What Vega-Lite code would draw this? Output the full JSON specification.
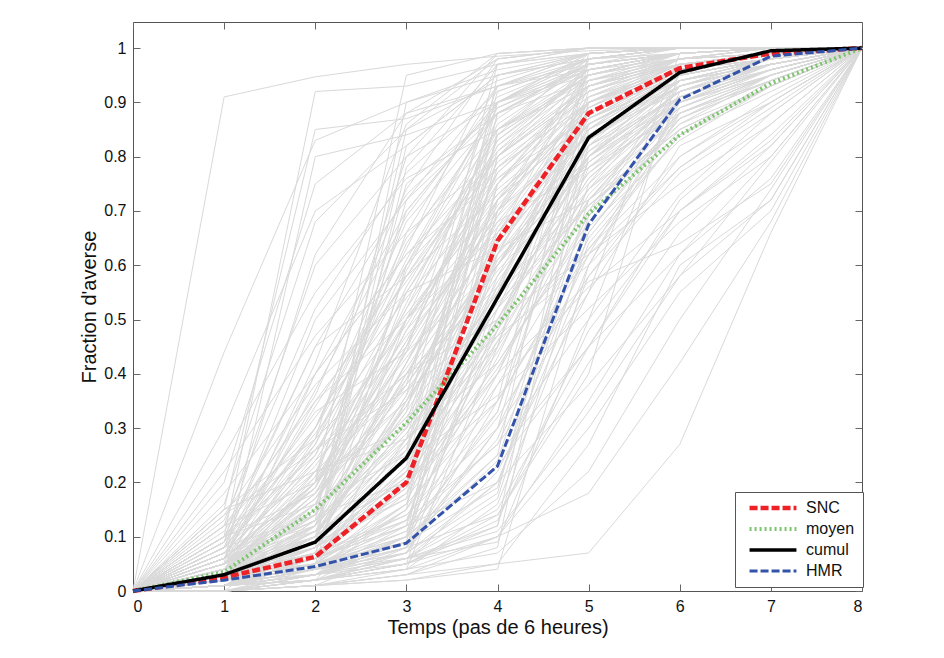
{
"$schema":"https://vega.github.io/schema/vega-lite/v6.json",
"width":729,"height":569,
"autosize":"none",
"padding":{"left":133,"top":22,"right":82,"bottom":67},
"background":"white",
"config":{"view":{"stroke":"#555","strokeWidth":1},"font":"Liberation Sans",
 "axis":{"grid":false,"domain":false,"tickSize":-7,"tickColor":"#666","tickWidth":1,"labelFontSize":16,"labelColor":"#111","titleFontSize":20,"titleFontWeight":"normal","titleColor":"#111","labelFont":"Liberation Sans","titleFont":"Liberation Sans"}},
"datasets":{
"sim":[
{"s":1,"t":0,"v":0},{"s":1,"t":1,"v":0.91},{"s":1,"t":2,"v":0.947},{"s":1,"t":3,"v":0.97},{"s":1,"t":4,"v":0.985},{"s":1,"t":5,"v":0.995},{"s":1,"t":6,"v":1},{"s":1,"t":7,"v":1},{"s":1,"t":8,"v":1},
{"s":2,"t":0,"v":0},{"s":2,"t":1,"v":0.44},{"s":2,"t":2,"v":0.83},{"s":2,"t":3,"v":0.9},{"s":2,"t":4,"v":0.95},{"s":2,"t":5,"v":0.98},{"s":2,"t":6,"v":0.99},{"s":2,"t":7,"v":1},{"s":2,"t":8,"v":1},
{"s":3,"t":0,"v":0},{"s":3,"t":1,"v":0.1},{"s":3,"t":2,"v":0.92},{"s":3,"t":3,"v":0.93},{"s":3,"t":4,"v":0.97},{"s":3,"t":5,"v":0.99},{"s":3,"t":6,"v":1},{"s":3,"t":7,"v":1},{"s":3,"t":8,"v":1},
{"s":4,"t":0,"v":0},{"s":4,"t":1,"v":0.15},{"s":4,"t":2,"v":0.85},{"s":4,"t":3,"v":0.87},{"s":4,"t":4,"v":0.93},{"s":4,"t":5,"v":0.97},{"s":4,"t":6,"v":0.99},{"s":4,"t":7,"v":1},{"s":4,"t":8,"v":1},
{"s":5,"t":0,"v":0},{"s":5,"t":1,"v":0.05},{"s":5,"t":2,"v":0.8},{"s":5,"t":3,"v":0.84},{"s":5,"t":4,"v":0.9},{"s":5,"t":5,"v":0.96},{"s":5,"t":6,"v":0.99},{"s":5,"t":7,"v":1},{"s":5,"t":8,"v":1},
{"s":6,"t":0,"v":0},{"s":6,"t":1,"v":0.2},{"s":6,"t":2,"v":0.75},{"s":6,"t":3,"v":0.88},{"s":6,"t":4,"v":0.93},{"s":6,"t":5,"v":0.96},{"s":6,"t":6,"v":0.98},{"s":6,"t":7,"v":0.99},{"s":6,"t":8,"v":1},
{"s":7,"t":0,"v":0},{"s":7,"t":1,"v":0.3},{"s":7,"t":2,"v":0.7},{"s":7,"t":3,"v":0.82},{"s":7,"t":4,"v":0.95},{"s":7,"t":5,"v":0.98},{"s":7,"t":6,"v":0.99},{"s":7,"t":7,"v":1},{"s":7,"t":8,"v":1},
{"s":8,"t":0,"v":0},{"s":8,"t":1,"v":0.12},{"s":8,"t":2,"v":0.6},{"s":8,"t":3,"v":0.8},{"s":8,"t":4,"v":0.9},{"s":8,"t":5,"v":0.95},{"s":8,"t":6,"v":0.98},{"s":8,"t":7,"v":0.99},{"s":8,"t":8,"v":1},
{"s":9,"t":0,"v":0},{"s":9,"t":1,"v":0.08},{"s":9,"t":2,"v":0.5},{"s":9,"t":3,"v":0.72},{"s":9,"t":4,"v":0.88},{"s":9,"t":5,"v":0.94},{"s":9,"t":6,"v":0.97},{"s":9,"t":7,"v":0.99},{"s":9,"t":8,"v":1},
{"s":10,"t":0,"v":0},{"s":10,"t":1,"v":0.25},{"s":10,"t":2,"v":0.55},{"s":10,"t":3,"v":0.76},{"s":10,"t":4,"v":0.85},{"s":10,"t":5,"v":0.93},{"s":10,"t":6,"v":0.97},{"s":10,"t":7,"v":0.985},{"s":10,"t":8,"v":1},
{"s":11,"t":0,"v":0},{"s":11,"t":1,"v":0.03},{"s":11,"t":2,"v":0.4},{"s":11,"t":3,"v":0.62},{"s":11,"t":4,"v":0.8},{"s":11,"t":5,"v":0.92},{"s":11,"t":6,"v":0.97},{"s":11,"t":7,"v":0.99},{"s":11,"t":8,"v":1},
{"s":12,"t":0,"v":0},{"s":12,"t":1,"v":0.1},{"s":12,"t":2,"v":0.45},{"s":12,"t":3,"v":0.58},{"s":12,"t":4,"v":0.73},{"s":12,"t":5,"v":0.88},{"s":12,"t":6,"v":0.95},{"s":12,"t":7,"v":0.98},{"s":12,"t":8,"v":1},
{"s":13,"t":0,"v":0},{"s":13,"t":1,"v":0.05},{"s":13,"t":2,"v":0.3},{"s":13,"t":3,"v":0.65},{"s":13,"t":4,"v":0.85},{"s":13,"t":5,"v":0.95},{"s":13,"t":6,"v":0.99},{"s":13,"t":7,"v":1},{"s":13,"t":8,"v":1},
{"s":14,"t":0,"v":0},{"s":14,"t":1,"v":0.02},{"s":14,"t":2,"v":0.2},{"s":14,"t":3,"v":0.7},{"s":14,"t":4,"v":0.9},{"s":14,"t":5,"v":0.97},{"s":14,"t":6,"v":0.99},{"s":14,"t":7,"v":1},{"s":14,"t":8,"v":1},
{"s":15,"t":0,"v":0},{"s":15,"t":1,"v":0.06},{"s":15,"t":2,"v":0.35},{"s":15,"t":3,"v":0.5},{"s":15,"t":4,"v":0.66},{"s":15,"t":5,"v":0.84},{"s":15,"t":6,"v":0.93},{"s":15,"t":7,"v":0.97},{"s":15,"t":8,"v":1},
{"s":16,"t":0,"v":0},{"s":16,"t":1,"v":0.15},{"s":16,"t":2,"v":0.28},{"s":16,"t":3,"v":0.45},{"s":16,"t":4,"v":0.72},{"s":16,"t":5,"v":0.9},{"s":16,"t":6,"v":0.96},{"s":16,"t":7,"v":0.98},{"s":16,"t":8,"v":1},
{"s":17,"t":0,"v":0},{"s":17,"t":1,"v":0},{"s":17,"t":2,"v":0.12},{"s":17,"t":3,"v":0.55},{"s":17,"t":4,"v":0.8},{"s":17,"t":5,"v":0.95},{"s":17,"t":6,"v":0.99},{"s":17,"t":7,"v":1},{"s":17,"t":8,"v":1},
{"s":18,"t":0,"v":0},{"s":18,"t":1,"v":0.04},{"s":18,"t":2,"v":0.18},{"s":18,"t":3,"v":0.38},{"s":18,"t":4,"v":0.62},{"s":18,"t":5,"v":0.8},{"s":18,"t":6,"v":0.92},{"s":18,"t":7,"v":0.96},{"s":18,"t":8,"v":1},
{"s":19,"t":0,"v":0},{"s":19,"t":1,"v":0.01},{"s":19,"t":2,"v":0.08},{"s":19,"t":3,"v":0.9},{"s":19,"t":4,"v":0.96},{"s":19,"t":5,"v":0.99},{"s":19,"t":6,"v":1},{"s":19,"t":7,"v":1},{"s":19,"t":8,"v":1},
{"s":20,"t":0,"v":0},{"s":20,"t":1,"v":0.02},{"s":20,"t":2,"v":0.1},{"s":20,"t":3,"v":0.82},{"s":20,"t":4,"v":0.95},{"s":20,"t":5,"v":0.99},{"s":20,"t":6,"v":1},{"s":20,"t":7,"v":1},{"s":20,"t":8,"v":1},
{"s":21,"t":0,"v":0},{"s":21,"t":1,"v":0.03},{"s":21,"t":2,"v":0.15},{"s":21,"t":3,"v":0.75},{"s":21,"t":4,"v":0.88},{"s":21,"t":5,"v":0.96},{"s":21,"t":6,"v":0.99},{"s":21,"t":7,"v":1},{"s":21,"t":8,"v":1},
{"s":22,"t":0,"v":0},{"s":22,"t":1,"v":0.01},{"s":22,"t":2,"v":0.05},{"s":22,"t":3,"v":0.6},{"s":22,"t":4,"v":0.9},{"s":22,"t":5,"v":0.98},{"s":22,"t":6,"v":1},{"s":22,"t":7,"v":1},{"s":22,"t":8,"v":1},
{"s":23,"t":0,"v":0},{"s":23,"t":1,"v":0.02},{"s":23,"t":2,"v":0.07},{"s":23,"t":3,"v":0.5},{"s":23,"t":4,"v":0.75},{"s":23,"t":5,"v":0.9},{"s":23,"t":6,"v":0.97},{"s":23,"t":7,"v":0.99},{"s":23,"t":8,"v":1},
{"s":24,"t":0,"v":0},{"s":24,"t":1,"v":0.05},{"s":24,"t":2,"v":0.12},{"s":24,"t":3,"v":0.42},{"s":24,"t":4,"v":0.7},{"s":24,"t":5,"v":0.86},{"s":24,"t":6,"v":0.94},{"s":24,"t":7,"v":0.97},{"s":24,"t":8,"v":1},
{"s":25,"t":0,"v":0},{"s":25,"t":1,"v":0.08},{"s":25,"t":2,"v":0.22},{"s":25,"t":3,"v":0.3},{"s":25,"t":4,"v":0.55},{"s":25,"t":5,"v":0.75},{"s":25,"t":6,"v":0.9},{"s":25,"t":7,"v":0.95},{"s":25,"t":8,"v":1},
{"s":26,"t":0,"v":0},{"s":26,"t":1,"v":0.01},{"s":26,"t":2,"v":0.04},{"s":26,"t":3,"v":0.35},{"s":26,"t":4,"v":0.6},{"s":26,"t":5,"v":0.82},{"s":26,"t":6,"v":0.93},{"s":26,"t":7,"v":0.97},{"s":26,"t":8,"v":1},
{"s":27,"t":0,"v":0},{"s":27,"t":1,"v":0.02},{"s":27,"t":2,"v":0.09},{"s":27,"t":3,"v":0.28},{"s":27,"t":4,"v":0.45},{"s":27,"t":5,"v":0.7},{"s":27,"t":6,"v":0.88},{"s":27,"t":7,"v":0.94},{"s":27,"t":8,"v":1},
{"s":28,"t":0,"v":0},{"s":28,"t":1,"v":0},{"s":28,"t":2,"v":0.02},{"s":28,"t":3,"v":0.2},{"s":28,"t":4,"v":0.8},{"s":28,"t":5,"v":0.93},{"s":28,"t":6,"v":0.98},{"s":28,"t":7,"v":0.99},{"s":28,"t":8,"v":1},
{"s":29,"t":0,"v":0},{"s":29,"t":1,"v":0.01},{"s":29,"t":2,"v":0.03},{"s":29,"t":3,"v":0.15},{"s":29,"t":4,"v":0.95},{"s":29,"t":5,"v":0.99},{"s":29,"t":6,"v":1},{"s":29,"t":7,"v":1},{"s":29,"t":8,"v":1},
{"s":30,"t":0,"v":0},{"s":30,"t":1,"v":0.03},{"s":30,"t":2,"v":0.06},{"s":30,"t":3,"v":0.12},{"s":30,"t":4,"v":0.7},{"s":30,"t":5,"v":0.9},{"s":30,"t":6,"v":0.97},{"s":30,"t":7,"v":0.99},{"s":30,"t":8,"v":1},
{"s":31,"t":0,"v":0},{"s":31,"t":1,"v":0.02},{"s":31,"t":2,"v":0.05},{"s":31,"t":3,"v":0.25},{"s":31,"t":4,"v":0.88},{"s":31,"t":5,"v":0.97},{"s":31,"t":6,"v":0.99},{"s":31,"t":7,"v":1},{"s":31,"t":8,"v":1},
{"s":32,"t":0,"v":0},{"s":32,"t":1,"v":0.01},{"s":32,"t":2,"v":0.1},{"s":32,"t":3,"v":0.33},{"s":32,"t":4,"v":0.92},{"s":32,"t":5,"v":0.98},{"s":32,"t":6,"v":1},{"s":32,"t":7,"v":1},{"s":32,"t":8,"v":1},
{"s":33,"t":0,"v":0},{"s":33,"t":1,"v":0.04},{"s":33,"t":2,"v":0.08},{"s":33,"t":3,"v":0.18},{"s":33,"t":4,"v":0.6},{"s":33,"t":5,"v":0.85},{"s":33,"t":6,"v":0.95},{"s":33,"t":7,"v":0.98},{"s":33,"t":8,"v":1},
{"s":34,"t":0,"v":0},{"s":34,"t":1,"v":0},{"s":34,"t":2,"v":0.01},{"s":34,"t":3,"v":0.08},{"s":34,"t":4,"v":0.5},{"s":34,"t":5,"v":0.8},{"s":34,"t":6,"v":0.94},{"s":34,"t":7,"v":0.97},{"s":34,"t":8,"v":1},
{"s":35,"t":0,"v":0},{"s":35,"t":1,"v":0.01},{"s":35,"t":2,"v":0.04},{"s":35,"t":3,"v":0.1},{"s":35,"t":4,"v":0.4},{"s":35,"t":5,"v":0.72},{"s":35,"t":6,"v":0.9},{"s":35,"t":7,"v":0.95},{"s":35,"t":8,"v":1},
{"s":36,"t":0,"v":0},{"s":36,"t":1,"v":0.02},{"s":36,"t":2,"v":0.06},{"s":36,"t":3,"v":0.14},{"s":36,"t":4,"v":0.3},{"s":36,"t":5,"v":0.65},{"s":36,"t":6,"v":0.85},{"s":36,"t":7,"v":0.93},{"s":36,"t":8,"v":1},
{"s":37,"t":0,"v":0},{"s":37,"t":1,"v":0},{"s":37,"t":2,"v":0.02},{"s":37,"t":3,"v":0.05},{"s":37,"t":4,"v":0.22},{"s":37,"t":5,"v":0.55},{"s":37,"t":6,"v":0.82},{"s":37,"t":7,"v":0.9},{"s":37,"t":8,"v":1},
{"s":38,"t":0,"v":0},{"s":38,"t":1,"v":0.01},{"s":38,"t":2,"v":0.03},{"s":38,"t":3,"v":0.06},{"s":38,"t":4,"v":0.15},{"s":38,"t":5,"v":0.45},{"s":38,"t":6,"v":0.7},{"s":38,"t":7,"v":0.82},{"s":38,"t":8,"v":1},
{"s":39,"t":0,"v":0},{"s":39,"t":1,"v":0},{"s":39,"t":2,"v":0.01},{"s":39,"t":3,"v":0.03},{"s":39,"t":4,"v":0.1},{"s":39,"t":5,"v":0.35},{"s":39,"t":6,"v":0.62},{"s":39,"t":7,"v":0.8},{"s":39,"t":8,"v":1},
{"s":40,"t":0,"v":0},{"s":40,"t":1,"v":0.02},{"s":40,"t":2,"v":0.05},{"s":40,"t":3,"v":0.09},{"s":40,"t":4,"v":0.25},{"s":40,"t":5,"v":0.98},{"s":40,"t":6,"v":1},{"s":40,"t":7,"v":1},{"s":40,"t":8,"v":1},
{"s":41,"t":0,"v":0},{"s":41,"t":1,"v":0.01},{"s":41,"t":2,"v":0.03},{"s":41,"t":3,"v":0.07},{"s":41,"t":4,"v":0.35},{"s":41,"t":5,"v":0.99},{"s":41,"t":6,"v":1},{"s":41,"t":7,"v":1},{"s":41,"t":8,"v":1},
{"s":42,"t":0,"v":0},{"s":42,"t":1,"v":0},{"s":42,"t":2,"v":0.02},{"s":42,"t":3,"v":0.04},{"s":42,"t":4,"v":0.45},{"s":42,"t":5,"v":0.96},{"s":42,"t":6,"v":0.99},{"s":42,"t":7,"v":1},{"s":42,"t":8,"v":1},
{"s":43,"t":0,"v":0},{"s":43,"t":1,"v":0.03},{"s":43,"t":2,"v":0.07},{"s":43,"t":3,"v":0.13},{"s":43,"t":4,"v":0.55},{"s":43,"t":5,"v":0.93},{"s":43,"t":6,"v":0.98},{"s":43,"t":7,"v":0.99},{"s":43,"t":8,"v":1},
{"s":44,"t":0,"v":0},{"s":44,"t":1,"v":0.01},{"s":44,"t":2,"v":0.04},{"s":44,"t":3,"v":0.08},{"s":44,"t":4,"v":0.65},{"s":44,"t":5,"v":0.97},{"s":44,"t":6,"v":0.99},{"s":44,"t":7,"v":1},{"s":44,"t":8,"v":1},
{"s":45,"t":0,"v":0},{"s":45,"t":1,"v":0.02},{"s":45,"t":2,"v":0.06},{"s":45,"t":3,"v":0.2},{"s":45,"t":4,"v":0.75},{"s":45,"t":5,"v":0.95},{"s":45,"t":6,"v":0.99},{"s":45,"t":7,"v":1},{"s":45,"t":8,"v":1},
{"s":46,"t":0,"v":0},{"s":46,"t":1,"v":0},{"s":46,"t":2,"v":0.03},{"s":46,"t":3,"v":0.1},{"s":46,"t":4,"v":0.85},{"s":46,"t":5,"v":0.98},{"s":46,"t":6,"v":1},{"s":46,"t":7,"v":1},{"s":46,"t":8,"v":1},
{"s":47,"t":0,"v":0},{"s":47,"t":1,"v":0.01},{"s":47,"t":2,"v":0.02},{"s":47,"t":3,"v":0.05},{"s":47,"t":4,"v":0.12},{"s":47,"t":5,"v":0.9},{"s":47,"t":6,"v":0.98},{"s":47,"t":7,"v":0.99},{"s":47,"t":8,"v":1},
{"s":48,"t":0,"v":0},{"s":48,"t":1,"v":0},{"s":48,"t":2,"v":0.01},{"s":48,"t":3,"v":0.03},{"s":48,"t":4,"v":0.08},{"s":48,"t":5,"v":0.85},{"s":48,"t":6,"v":0.97},{"s":48,"t":7,"v":0.99},{"s":48,"t":8,"v":1},
{"s":49,"t":0,"v":0},{"s":49,"t":1,"v":0.02},{"s":49,"t":2,"v":0.04},{"s":49,"t":3,"v":0.07},{"s":49,"t":4,"v":0.18},{"s":49,"t":5,"v":0.8},{"s":49,"t":6,"v":0.96},{"s":49,"t":7,"v":0.98},{"s":49,"t":8,"v":1},
{"s":50,"t":0,"v":0},{"s":50,"t":1,"v":0.01},{"s":50,"t":2,"v":0.03},{"s":50,"t":3,"v":0.09},{"s":50,"t":4,"v":0.28},{"s":50,"t":5,"v":0.7},{"s":50,"t":6,"v":0.94},{"s":50,"t":7,"v":0.97},{"s":50,"t":8,"v":1},
{"s":51,"t":0,"v":0},{"s":51,"t":1,"v":0},{"s":51,"t":2,"v":0.02},{"s":51,"t":3,"v":0.06},{"s":51,"t":4,"v":0.2},{"s":51,"t":5,"v":0.6},{"s":51,"t":6,"v":0.88},{"s":51,"t":7,"v":0.95},{"s":51,"t":8,"v":1},
{"s":52,"t":0,"v":0},{"s":52,"t":1,"v":0.03},{"s":52,"t":2,"v":0.05},{"s":52,"t":3,"v":0.11},{"s":52,"t":4,"v":0.32},{"s":52,"t":5,"v":0.58},{"s":52,"t":6,"v":0.8},{"s":52,"t":7,"v":0.9},{"s":52,"t":8,"v":1},
{"s":53,"t":0,"v":0},{"s":53,"t":1,"v":0.01},{"s":53,"t":2,"v":0.02},{"s":53,"t":3,"v":0.04},{"s":53,"t":4,"v":0.1},{"s":53,"t":5,"v":0.3},{"s":53,"t":6,"v":0.55},{"s":53,"t":7,"v":0.7},{"s":53,"t":8,"v":1},
{"s":54,"t":0,"v":0},{"s":54,"t":1,"v":0},{"s":54,"t":2,"v":0.01},{"s":54,"t":3,"v":0.02},{"s":54,"t":4,"v":0.05},{"s":54,"t":5,"v":0.27},{"s":54,"t":6,"v":0.6},{"s":54,"t":7,"v":0.72},{"s":54,"t":8,"v":1},
{"s":55,"t":0,"v":0},{"s":55,"t":1,"v":0.02},{"s":55,"t":2,"v":0.04},{"s":55,"t":3,"v":0.06},{"s":55,"t":4,"v":0.09},{"s":55,"t":5,"v":0.5},{"s":55,"t":6,"v":0.92},{"s":55,"t":7,"v":0.97},{"s":55,"t":8,"v":1},
{"s":56,"t":0,"v":0},{"s":56,"t":1,"v":0.01},{"s":56,"t":2,"v":0.02},{"s":56,"t":3,"v":0.05},{"s":56,"t":4,"v":0.14},{"s":56,"t":5,"v":0.4},{"s":56,"t":6,"v":0.96},{"s":56,"t":7,"v":0.99},{"s":56,"t":8,"v":1},
{"s":57,"t":0,"v":0},{"s":57,"t":1,"v":0},{"s":57,"t":2,"v":0.03},{"s":57,"t":3,"v":0.08},{"s":57,"t":4,"v":0.3},{"s":57,"t":5,"v":0.55},{"s":57,"t":6,"v":0.99},{"s":57,"t":7,"v":1},{"s":57,"t":8,"v":1},
{"s":58,"t":0,"v":0},{"s":58,"t":1,"v":0.04},{"s":58,"t":2,"v":0.1},{"s":58,"t":3,"v":0.4},{"s":58,"t":4,"v":0.5},{"s":58,"t":5,"v":0.62},{"s":58,"t":6,"v":0.75},{"s":58,"t":7,"v":0.86},{"s":58,"t":8,"v":1},
{"s":59,"t":0,"v":0},{"s":59,"t":1,"v":0.05},{"s":59,"t":2,"v":0.16},{"s":59,"t":3,"v":0.48},{"s":59,"t":4,"v":0.68},{"s":59,"t":5,"v":0.78},{"s":59,"t":6,"v":0.88},{"s":59,"t":7,"v":0.94},{"s":59,"t":8,"v":1},
{"s":60,"t":0,"v":0},{"s":60,"t":1,"v":0.06},{"s":60,"t":2,"v":0.2},{"s":60,"t":3,"v":0.52},{"s":60,"t":4,"v":0.78},{"s":60,"t":5,"v":0.9},{"s":60,"t":6,"v":0.96},{"s":60,"t":7,"v":0.98},{"s":60,"t":8,"v":1},
{"s":61,"t":0,"v":0},{"s":61,"t":1,"v":0.1},{"s":61,"t":2,"v":0.25},{"s":61,"t":3,"v":0.6},{"s":61,"t":4,"v":0.85},{"s":61,"t":5,"v":0.94},{"s":61,"t":6,"v":0.98},{"s":61,"t":7,"v":0.99},{"s":61,"t":8,"v":1},
{"s":62,"t":0,"v":0},{"s":62,"t":1,"v":0.12},{"s":62,"t":2,"v":0.3},{"s":62,"t":3,"v":0.68},{"s":62,"t":4,"v":0.88},{"s":62,"t":5,"v":0.97},{"s":62,"t":6,"v":0.99},{"s":62,"t":7,"v":1},{"s":62,"t":8,"v":1},
{"s":63,"t":0,"v":0},{"s":63,"t":1,"v":0.07},{"s":63,"t":2,"v":0.14},{"s":63,"t":3,"v":0.72},{"s":63,"t":4,"v":0.93},{"s":63,"t":5,"v":0.98},{"s":63,"t":6,"v":1},{"s":63,"t":7,"v":1},{"s":63,"t":8,"v":1},
{"s":64,"t":0,"v":0},{"s":64,"t":1,"v":0.03},{"s":64,"t":2,"v":0.09},{"s":64,"t":3,"v":0.78},{"s":64,"t":4,"v":0.97},{"s":64,"t":5,"v":0.99},{"s":64,"t":6,"v":1},{"s":64,"t":7,"v":1},{"s":64,"t":8,"v":1},
{"s":65,"t":0,"v":0},{"s":65,"t":1,"v":0.02},{"s":65,"t":2,"v":0.13},{"s":65,"t":3,"v":0.85},{"s":65,"t":4,"v":0.98},{"s":65,"t":5,"v":1},{"s":65,"t":6,"v":1},{"s":65,"t":7,"v":1},{"s":65,"t":8,"v":1},
{"s":66,"t":0,"v":0},{"s":66,"t":1,"v":0.04},{"s":66,"t":2,"v":0.2},{"s":66,"t":3,"v":0.95},{"s":66,"t":4,"v":0.99},{"s":66,"t":5,"v":1},{"s":66,"t":6,"v":1},{"s":66,"t":7,"v":1},{"s":66,"t":8,"v":1},
{"s":67,"t":0,"v":0},{"s":67,"t":1,"v":0.14},{"s":67,"t":2,"v":0.38},{"s":67,"t":3,"v":0.55},{"s":67,"t":4,"v":0.63},{"s":67,"t":5,"v":0.72},{"s":67,"t":6,"v":0.85},{"s":67,"t":7,"v":0.93},{"s":67,"t":8,"v":1},
{"s":68,"t":0,"v":0},{"s":68,"t":1,"v":0.09},{"s":68,"t":2,"v":0.33},{"s":68,"t":3,"v":0.44},{"s":68,"t":4,"v":0.6},{"s":68,"t":5,"v":0.88},{"s":68,"t":6,"v":0.95},{"s":68,"t":7,"v":0.98},{"s":68,"t":8,"v":1},
{"s":69,"t":0,"v":0},{"s":69,"t":1,"v":0.06},{"s":69,"t":2,"v":0.26},{"s":69,"t":3,"v":0.37},{"s":69,"t":4,"v":0.5},{"s":69,"t":5,"v":0.76},{"s":69,"t":6,"v":0.91},{"s":69,"t":7,"v":0.96},{"s":69,"t":8,"v":1},
{"s":70,"t":0,"v":0},{"s":70,"t":1,"v":0.03},{"s":70,"t":2,"v":0.12},{"s":70,"t":3,"v":0.3},{"s":70,"t":4,"v":0.78},{"s":70,"t":5,"v":0.93},{"s":70,"t":6,"v":0.99},{"s":70,"t":7,"v":1},{"s":70,"t":8,"v":1},
{"s":71,"t":0,"v":0},{"s":71,"t":1,"v":0.05},{"s":71,"t":2,"v":0.17},{"s":71,"t":3,"v":0.45},{"s":71,"t":4,"v":0.82},{"s":71,"t":5,"v":0.96},{"s":71,"t":6,"v":0.99},{"s":71,"t":7,"v":1},{"s":71,"t":8,"v":1},
{"s":72,"t":0,"v":0},{"s":72,"t":1,"v":0.02},{"s":72,"t":2,"v":0.08},{"s":72,"t":3,"v":0.22},{"s":72,"t":4,"v":0.67},{"s":72,"t":5,"v":0.91},{"s":72,"t":6,"v":0.97},{"s":72,"t":7,"v":0.99},{"s":72,"t":8,"v":1},
{"s":73,"t":0,"v":0},{"s":73,"t":1,"v":0.01},{"s":73,"t":2,"v":0.05},{"s":73,"t":3,"v":0.16},{"s":73,"t":4,"v":0.58},{"s":73,"t":5,"v":0.87},{"s":73,"t":6,"v":0.96},{"s":73,"t":7,"v":0.98},{"s":73,"t":8,"v":1},
{"s":74,"t":0,"v":0},{"s":74,"t":1,"v":0},{"s":74,"t":2,"v":0.04},{"s":74,"t":3,"v":0.11},{"s":74,"t":4,"v":0.48},{"s":74,"t":5,"v":0.83},{"s":74,"t":6,"v":0.95},{"s":74,"t":7,"v":0.98},{"s":74,"t":8,"v":1},
{"s":75,"t":0,"v":0},{"s":75,"t":1,"v":0.02},{"s":75,"t":2,"v":0.07},{"s":75,"t":3,"v":0.19},{"s":75,"t":4,"v":0.42},{"s":75,"t":5,"v":0.68},{"s":75,"t":6,"v":0.86},{"s":75,"t":7,"v":0.93},{"s":75,"t":8,"v":1},
{"s":76,"t":0,"v":0},{"s":76,"t":1,"v":0.03},{"s":76,"t":2,"v":0.1},{"s":76,"t":3,"v":0.24},{"s":76,"t":4,"v":0.36},{"s":76,"t":5,"v":0.52},{"s":76,"t":6,"v":0.68},{"s":76,"t":7,"v":0.8},{"s":76,"t":8,"v":1},
{"s":77,"t":0,"v":0},{"s":77,"t":1,"v":0.01},{"s":77,"t":2,"v":0.06},{"s":77,"t":3,"v":0.13},{"s":77,"t":4,"v":0.27},{"s":77,"t":5,"v":0.62},{"s":77,"t":6,"v":0.89},{"s":77,"t":7,"v":0.95},{"s":77,"t":8,"v":1},
{"s":78,"t":0,"v":0},{"s":78,"t":1,"v":0.04},{"s":78,"t":2,"v":0.11},{"s":78,"t":3,"v":0.27},{"s":78,"t":4,"v":0.52},{"s":78,"t":5,"v":0.77},{"s":78,"t":6,"v":0.91},{"s":78,"t":7,"v":0.96},{"s":78,"t":8,"v":1},
{"s":79,"t":0,"v":0},{"s":79,"t":1,"v":0},{"s":79,"t":2,"v":0.02},{"s":79,"t":3,"v":0.07},{"s":79,"t":4,"v":0.38},{"s":79,"t":5,"v":0.66},{"s":79,"t":6,"v":0.87},{"s":79,"t":7,"v":0.94},{"s":79,"t":8,"v":1},
{"s":80,"t":0,"v":0},{"s":80,"t":1,"v":0.01},{"s":80,"t":2,"v":0.05},{"s":80,"t":3,"v":0.15},{"s":80,"t":4,"v":0.46},{"s":80,"t":5,"v":0.74},{"s":80,"t":6,"v":0.93},{"s":80,"t":7,"v":0.97},{"s":80,"t":8,"v":1},
{"s":81,"t":0,"v":0},{"s":81,"t":1,"v":0.02},{"s":81,"t":2,"v":0.09},{"s":81,"t":3,"v":0.21},{"s":81,"t":4,"v":0.56},{"s":81,"t":5,"v":0.89},{"s":81,"t":6,"v":0.98},{"s":81,"t":7,"v":0.99},{"s":81,"t":8,"v":1},
{"s":82,"t":0,"v":0},{"s":82,"t":1,"v":0},{"s":82,"t":2,"v":0.03},{"s":82,"t":3,"v":0.12},{"s":82,"t":4,"v":0.62},{"s":82,"t":5,"v":0.94},{"s":82,"t":6,"v":0.99},{"s":82,"t":7,"v":1},{"s":82,"t":8,"v":1},
{"s":83,"t":0,"v":0},{"s":83,"t":1,"v":0.01},{"s":83,"t":2,"v":0.04},{"s":83,"t":3,"v":0.09},{"s":83,"t":4,"v":0.72},{"s":83,"t":5,"v":0.95},{"s":83,"t":6,"v":0.99},{"s":83,"t":7,"v":1},{"s":83,"t":8,"v":1},
{"s":84,"t":0,"v":0},{"s":84,"t":1,"v":0.03},{"s":84,"t":2,"v":0.08},{"s":84,"t":3,"v":0.17},{"s":84,"t":4,"v":0.8},{"s":84,"t":5,"v":0.97},{"s":84,"t":6,"v":1},{"s":84,"t":7,"v":1},{"s":84,"t":8,"v":1},
{"s":85,"t":0,"v":0},{"s":85,"t":1,"v":0.05},{"s":85,"t":2,"v":0.13},{"s":85,"t":3,"v":0.26},{"s":85,"t":4,"v":0.9},{"s":85,"t":5,"v":0.99},{"s":85,"t":6,"v":1},{"s":85,"t":7,"v":1},{"s":85,"t":8,"v":1},
{"s":86,"t":0,"v":0},{"s":86,"t":1,"v":0.02},{"s":86,"t":2,"v":0.1},{"s":86,"t":3,"v":0.36},{"s":86,"t":4,"v":0.97},{"s":86,"t":5,"v":1},{"s":86,"t":6,"v":1},{"s":86,"t":7,"v":1},{"s":86,"t":8,"v":1},
{"s":87,"t":0,"v":0},{"s":87,"t":1,"v":0.01},{"s":87,"t":2,"v":0.07},{"s":87,"t":3,"v":0.23},{"s":87,"t":4,"v":0.84},{"s":87,"t":5,"v":0.99},{"s":87,"t":6,"v":1},{"s":87,"t":7,"v":1},{"s":87,"t":8,"v":1},
{"s":88,"t":0,"v":0},{"s":88,"t":1,"v":0},{"s":88,"t":2,"v":0.02},{"s":88,"t":3,"v":0.06},{"s":88,"t":4,"v":0.17},{"s":88,"t":5,"v":0.69},{"s":88,"t":6,"v":0.93},{"s":88,"t":7,"v":0.97},{"s":88,"t":8,"v":1},
{"s":89,"t":0,"v":0},{"s":89,"t":1,"v":0.01},{"s":89,"t":2,"v":0.03},{"s":89,"t":3,"v":0.08},{"s":89,"t":4,"v":0.24},{"s":89,"t":5,"v":0.75},{"s":89,"t":6,"v":0.95},{"s":89,"t":7,"v":0.98},{"s":89,"t":8,"v":1},
{"s":90,"t":0,"v":0},{"s":90,"t":1,"v":0.02},{"s":90,"t":2,"v":0.05},{"s":90,"t":3,"v":0.1},{"s":90,"t":4,"v":0.33},{"s":90,"t":5,"v":0.82},{"s":90,"t":6,"v":0.97},{"s":90,"t":7,"v":0.99},{"s":90,"t":8,"v":1},
{"s":91,"t":0,"v":0},{"s":91,"t":1,"v":0.18},{"s":91,"t":2,"v":0.4},{"s":91,"t":3,"v":0.62},{"s":91,"t":4,"v":0.76},{"s":91,"t":5,"v":0.87},{"s":91,"t":6,"v":0.94},{"s":91,"t":7,"v":0.97},{"s":91,"t":8,"v":1},
{"s":92,"t":0,"v":0},{"s":92,"t":1,"v":0.22},{"s":92,"t":2,"v":0.47},{"s":92,"t":3,"v":0.66},{"s":92,"t":4,"v":0.8},{"s":92,"t":5,"v":0.92},{"s":92,"t":6,"v":0.97},{"s":92,"t":7,"v":0.99},{"s":92,"t":8,"v":1},
{"s":93,"t":0,"v":0},{"s":93,"t":1,"v":0.07},{"s":93,"t":2,"v":0.24},{"s":93,"t":3,"v":0.4},{"s":93,"t":4,"v":0.56},{"s":93,"t":5,"v":0.71},{"s":93,"t":6,"v":0.84},{"s":93,"t":7,"v":0.92},{"s":93,"t":8,"v":1},
{"s":94,"t":0,"v":0},{"s":94,"t":1,"v":0.03},{"s":94,"t":2,"v":0.15},{"s":94,"t":3,"v":0.32},{"s":94,"t":4,"v":0.47},{"s":94,"t":5,"v":0.6},{"s":94,"t":6,"v":0.78},{"s":94,"t":7,"v":0.89},{"s":94,"t":8,"v":1},
{"s":95,"t":0,"v":0},{"s":95,"t":1,"v":0.01},{"s":95,"t":2,"v":0.06},{"s":95,"t":3,"v":0.2},{"s":95,"t":4,"v":0.4},{"s":95,"t":5,"v":0.57},{"s":95,"t":6,"v":0.64},{"s":95,"t":7,"v":0.75},{"s":95,"t":8,"v":1},
{"s":96,"t":0,"v":0},{"s":96,"t":1,"v":0},{"s":96,"t":2,"v":0.03},{"s":96,"t":3,"v":0.1},{"s":96,"t":4,"v":0.25},{"s":96,"t":5,"v":0.45},{"s":96,"t":6,"v":0.72},{"s":96,"t":7,"v":0.86},{"s":96,"t":8,"v":1},
{"s":97,"t":0,"v":0},{"s":97,"t":1,"v":0.02},{"s":97,"t":2,"v":0.05},{"s":97,"t":3,"v":0.12},{"s":97,"t":4,"v":0.2},{"s":97,"t":5,"v":0.38},{"s":97,"t":6,"v":0.58},{"s":97,"t":7,"v":0.72},{"s":97,"t":8,"v":1},
{"s":98,"t":0,"v":0},{"s":98,"t":1,"v":0.04},{"s":98,"t":2,"v":0.12},{"s":98,"t":3,"v":0.34},{"s":98,"t":4,"v":0.64},{"s":98,"t":5,"v":0.86},{"s":98,"t":6,"v":0.95},{"s":98,"t":7,"v":0.98},{"s":98,"t":8,"v":1},
{"s":99,"t":0,"v":0},{"s":99,"t":1,"v":0.06},{"s":99,"t":2,"v":0.19},{"s":99,"t":3,"v":0.5},{"s":99,"t":4,"v":0.73},{"s":99,"t":5,"v":0.89},{"s":99,"t":6,"v":0.97},{"s":99,"t":7,"v":0.99},{"s":99,"t":8,"v":1},
{"s":100,"t":0,"v":0},{"s":100,"t":1,"v":0.08},{"s":100,"t":2,"v":0.27},{"s":100,"t":3,"v":0.58},{"s":100,"t":4,"v":0.83},{"s":100,"t":5,"v":0.95},{"s":100,"t":6,"v":0.99},{"s":100,"t":7,"v":1},{"s":100,"t":8,"v":1},
{"s":101,"t":0,"v":0},{"s":101,"t":1,"v":0.12},{"s":101,"t":2,"v":0.2},{"s":101,"t":3,"v":0.35},{"s":101,"t":4,"v":0.6},{"s":101,"t":5,"v":0.85},{"s":101,"t":6,"v":0.93},{"s":101,"t":7,"v":0.98},{"s":101,"t":8,"v":1},
{"s":102,"t":0,"v":0},{"s":102,"t":1,"v":0.15},{"s":102,"t":2,"v":0.22},{"s":102,"t":3,"v":0.28},{"s":102,"t":4,"v":0.42},{"s":102,"t":5,"v":0.67},{"s":102,"t":6,"v":0.83},{"s":102,"t":7,"v":0.93},{"s":102,"t":8,"v":1},
{"s":103,"t":0,"v":0},{"s":103,"t":1,"v":0.1},{"s":103,"t":2,"v":0.16},{"s":103,"t":3,"v":0.25},{"s":103,"t":4,"v":0.5},{"s":103,"t":5,"v":0.8},{"s":103,"t":6,"v":0.9},{"s":103,"t":7,"v":0.96},{"s":103,"t":8,"v":1},
{"s":104,"t":0,"v":0},{"s":104,"t":1,"v":0.14},{"s":104,"t":2,"v":0.26},{"s":104,"t":3,"v":0.4},{"s":104,"t":4,"v":0.7},{"s":104,"t":5,"v":0.93},{"s":104,"t":6,"v":0.97},{"s":104,"t":7,"v":0.99},{"s":104,"t":8,"v":1},
{"s":105,"t":0,"v":0},{"s":105,"t":1,"v":0.08},{"s":105,"t":2,"v":0.14},{"s":105,"t":3,"v":0.2},{"s":105,"t":4,"v":0.35},{"s":105,"t":5,"v":0.62},{"s":105,"t":6,"v":0.78},{"s":105,"t":7,"v":0.9},{"s":105,"t":8,"v":1},
{"s":106,"t":0,"v":0},{"s":106,"t":1,"v":0.05},{"s":106,"t":2,"v":0.1},{"s":106,"t":3,"v":0.24},{"s":106,"t":4,"v":0.62},{"s":106,"t":5,"v":0.9},{"s":106,"t":6,"v":0.96},{"s":106,"t":7,"v":0.99},{"s":106,"t":8,"v":1},
{"s":107,"t":0,"v":0},{"s":107,"t":1,"v":0.07},{"s":107,"t":2,"v":0.12},{"s":107,"t":3,"v":0.3},{"s":107,"t":4,"v":0.55},{"s":107,"t":5,"v":0.82},{"s":107,"t":6,"v":0.91},{"s":107,"t":7,"v":0.97},{"s":107,"t":8,"v":1},
{"s":108,"t":0,"v":0},{"s":108,"t":1,"v":0.04},{"s":108,"t":2,"v":0.09},{"s":108,"t":3,"v":0.17},{"s":108,"t":4,"v":0.4},{"s":108,"t":5,"v":0.78},{"s":108,"t":6,"v":0.92},{"s":108,"t":7,"v":0.98},{"s":108,"t":8,"v":1},
{"s":109,"t":0,"v":0},{"s":109,"t":1,"v":0.03},{"s":109,"t":2,"v":0.07},{"s":109,"t":3,"v":0.14},{"s":109,"t":4,"v":0.33},{"s":109,"t":5,"v":0.9},{"s":109,"t":6,"v":0.97},{"s":109,"t":7,"v":0.99},{"s":109,"t":8,"v":1},
{"s":110,"t":0,"v":0},{"s":110,"t":1,"v":0.06},{"s":110,"t":2,"v":0.11},{"s":110,"t":3,"v":0.2},{"s":110,"t":4,"v":0.48},{"s":110,"t":5,"v":0.92},{"s":110,"t":6,"v":0.98},{"s":110,"t":7,"v":1},{"s":110,"t":8,"v":1},
{"s":111,"t":0,"v":0},{"s":111,"t":1,"v":0.02},{"s":111,"t":2,"v":0.06},{"s":111,"t":3,"v":0.16},{"s":111,"t":4,"v":0.7},{"s":111,"t":5,"v":0.98},{"s":111,"t":6,"v":1},{"s":111,"t":7,"v":1},{"s":111,"t":8,"v":1},
{"s":112,"t":0,"v":0},{"s":112,"t":1,"v":0.1},{"s":112,"t":2,"v":0.18},{"s":112,"t":3,"v":0.44},{"s":112,"t":4,"v":0.93},{"s":112,"t":5,"v":0.99},{"s":112,"t":6,"v":1},{"s":112,"t":7,"v":1},{"s":112,"t":8,"v":1},
{"s":113,"t":0,"v":0},{"s":113,"t":1,"v":0.08},{"s":113,"t":2,"v":0.3},{"s":113,"t":3,"v":0.63},{"s":113,"t":4,"v":0.97},{"s":113,"t":5,"v":1},{"s":113,"t":6,"v":1},{"s":113,"t":7,"v":1},{"s":113,"t":8,"v":1},
{"s":114,"t":0,"v":0},{"s":114,"t":1,"v":0.11},{"s":114,"t":2,"v":0.36},{"s":114,"t":3,"v":0.74},{"s":114,"t":4,"v":0.98},{"s":114,"t":5,"v":1},{"s":114,"t":6,"v":1},{"s":114,"t":7,"v":1},{"s":114,"t":8,"v":1},
{"s":115,"t":0,"v":0},{"s":115,"t":1,"v":0.04},{"s":115,"t":2,"v":0.28},{"s":115,"t":3,"v":0.8},{"s":115,"t":4,"v":0.99},{"s":115,"t":5,"v":1},{"s":115,"t":6,"v":1},{"s":115,"t":7,"v":1},{"s":115,"t":8,"v":1},
{"s":116,"t":0,"v":0},{"s":116,"t":1,"v":0.06},{"s":116,"t":2,"v":0.42},{"s":116,"t":3,"v":0.86},{"s":116,"t":4,"v":0.99},{"s":116,"t":5,"v":1},{"s":116,"t":6,"v":1},{"s":116,"t":7,"v":1},{"s":116,"t":8,"v":1},
{"s":117,"t":0,"v":0},{"s":117,"t":1,"v":0.13},{"s":117,"t":2,"v":0.52},{"s":117,"t":3,"v":0.77},{"s":117,"t":4,"v":0.92},{"s":117,"t":5,"v":0.98},{"s":117,"t":6,"v":1},{"s":117,"t":7,"v":1},{"s":117,"t":8,"v":1},
{"s":118,"t":0,"v":0},{"s":118,"t":1,"v":0.09},{"s":118,"t":2,"v":0.62},{"s":118,"t":3,"v":0.88},{"s":118,"t":4,"v":0.98},{"s":118,"t":5,"v":1},{"s":118,"t":6,"v":1},{"s":118,"t":7,"v":1},{"s":118,"t":8,"v":1},
{"s":119,"t":0,"v":0},{"s":119,"t":1,"v":0.16},{"s":119,"t":2,"v":0.68},{"s":119,"t":3,"v":0.85},{"s":119,"t":4,"v":0.94},{"s":119,"t":5,"v":0.99},{"s":119,"t":6,"v":1},{"s":119,"t":7,"v":1},{"s":119,"t":8,"v":1},
{"s":120,"t":0,"v":0},{"s":120,"t":1,"v":0.04},{"s":120,"t":2,"v":0.16},{"s":120,"t":3,"v":0.5},{"s":120,"t":4,"v":0.86},{"s":120,"t":5,"v":0.97},{"s":120,"t":6,"v":0.99},{"s":120,"t":7,"v":1},{"s":120,"t":8,"v":1},
{"s":121,"t":0,"v":0},{"s":121,"t":1,"v":0.02},{"s":121,"t":2,"v":0.11},{"s":121,"t":3,"v":0.42},{"s":121,"t":4,"v":0.75},{"s":121,"t":5,"v":0.94},{"s":121,"t":6,"v":0.98},{"s":121,"t":7,"v":0.99},{"s":121,"t":8,"v":1},
{"s":122,"t":0,"v":0},{"s":122,"t":1,"v":0.01},{"s":122,"t":2,"v":0.06},{"s":122,"t":3,"v":0.26},{"s":122,"t":4,"v":0.66},{"s":122,"t":5,"v":0.9},{"s":122,"t":6,"v":0.96},{"s":122,"t":7,"v":0.98},{"s":122,"t":8,"v":1},
{"s":123,"t":0,"v":0},{"s":123,"t":1,"v":0.03},{"s":123,"t":2,"v":0.08},{"s":123,"t":3,"v":0.31},{"s":123,"t":4,"v":0.81},{"s":123,"t":5,"v":0.96},{"s":123,"t":6,"v":0.99},{"s":123,"t":7,"v":1},{"s":123,"t":8,"v":1},
{"s":124,"t":0,"v":0},{"s":124,"t":1,"v":0.05},{"s":124,"t":2,"v":0.14},{"s":124,"t":3,"v":0.38},{"s":124,"t":4,"v":0.9},{"s":124,"t":5,"v":0.99},{"s":124,"t":6,"v":1},{"s":124,"t":7,"v":1},{"s":124,"t":8,"v":1},
{"s":125,"t":0,"v":0},{"s":125,"t":1,"v":0},{"s":125,"t":2,"v":0.02},{"s":125,"t":3,"v":0.1},{"s":125,"t":4,"v":0.52},{"s":125,"t":5,"v":0.86},{"s":125,"t":6,"v":0.95},{"s":125,"t":7,"v":0.98},{"s":125,"t":8,"v":1},
{"s":126,"t":0,"v":0},{"s":126,"t":1,"v":0.01},{"s":126,"t":2,"v":0.04},{"s":126,"t":3,"v":0.13},{"s":126,"t":4,"v":0.43},{"s":126,"t":5,"v":0.79},{"s":126,"t":6,"v":0.9},{"s":126,"t":7,"v":0.96},{"s":126,"t":8,"v":1},
{"s":127,"t":0,"v":0},{"s":127,"t":1,"v":0.02},{"s":127,"t":2,"v":0.03},{"s":127,"t":3,"v":0.07},{"s":127,"t":4,"v":0.2},{"s":127,"t":5,"v":0.64},{"s":127,"t":6,"v":0.84},{"s":127,"t":7,"v":0.93},{"s":127,"t":8,"v":1},
{"s":128,"t":0,"v":0},{"s":128,"t":1,"v":0},{"s":128,"t":2,"v":0.01},{"s":128,"t":3,"v":0.04},{"s":128,"t":4,"v":0.16},{"s":128,"t":5,"v":0.58},{"s":128,"t":6,"v":0.77},{"s":128,"t":7,"v":0.88},{"s":128,"t":8,"v":1},
{"s":129,"t":0,"v":0},{"s":129,"t":1,"v":0.01},{"s":129,"t":2,"v":0.02},{"s":129,"t":3,"v":0.05},{"s":129,"t":4,"v":0.13},{"s":129,"t":5,"v":0.48},{"s":129,"t":6,"v":0.7},{"s":129,"t":7,"v":0.84},{"s":129,"t":8,"v":1},
{"s":130,"t":0,"v":0},{"s":130,"t":1,"v":0},{"s":130,"t":2,"v":0.02},{"s":130,"t":3,"v":0.04},{"s":130,"t":4,"v":0.07},{"s":130,"t":5,"v":0.22},{"s":130,"t":6,"v":0.5},{"s":130,"t":7,"v":0.74},{"s":130,"t":8,"v":1},
{"s":131,"t":0,"v":0},{"s":131,"t":1,"v":0.01},{"s":131,"t":2,"v":0.03},{"s":131,"t":3,"v":0.05},{"s":131,"t":4,"v":0.1},{"s":131,"t":5,"v":0.18},{"s":131,"t":6,"v":0.42},{"s":131,"t":7,"v":0.68},{"s":131,"t":8,"v":1},
{"s":132,"t":0,"v":0},{"s":132,"t":1,"v":0.02},{"s":132,"t":2,"v":0.04},{"s":132,"t":3,"v":0.08},{"s":132,"t":4,"v":0.14},{"s":132,"t":5,"v":0.42},{"s":132,"t":6,"v":0.66},{"s":132,"t":7,"v":0.82},{"s":132,"t":8,"v":1},
{"s":133,"t":0,"v":0},{"s":133,"t":1,"v":0},{"s":133,"t":2,"v":0.01},{"s":133,"t":3,"v":0.03},{"s":133,"t":4,"v":0.05},{"s":133,"t":5,"v":0.07},{"s":133,"t":6,"v":0.27},{"s":133,"t":7,"v":0.66},{"s":133,"t":8,"v":1},
{"s":134,"t":0,"v":0},{"s":134,"t":1,"v":0.01},{"s":134,"t":2,"v":0.02},{"s":134,"t":3,"v":0.06},{"s":134,"t":4,"v":0.11},{"s":134,"t":5,"v":0.33},{"s":134,"t":6,"v":0.58},{"s":134,"t":7,"v":0.79},{"s":134,"t":8,"v":1},
{"s":135,"t":0,"v":0},{"s":135,"t":1,"v":0.03},{"s":135,"t":2,"v":0.06},{"s":135,"t":3,"v":0.12},{"s":135,"t":4,"v":0.27},{"s":135,"t":5,"v":0.5},{"s":135,"t":6,"v":0.73},{"s":135,"t":7,"v":0.88},{"s":135,"t":8,"v":1},
{"s":136,"t":0,"v":0},{"s":136,"t":1,"v":0.02},{"s":136,"t":2,"v":0.05},{"s":136,"t":3,"v":0.1},{"s":136,"t":4,"v":0.23},{"s":136,"t":5,"v":0.45},{"s":136,"t":6,"v":0.62},{"s":136,"t":7,"v":0.76},{"s":136,"t":8,"v":1},
{"s":137,"t":0,"v":0},{"s":137,"t":1,"v":0.01},{"s":137,"t":2,"v":0.04},{"s":137,"t":3,"v":0.15},{"s":137,"t":4,"v":0.38},{"s":137,"t":5,"v":0.56},{"s":137,"t":6,"v":0.7},{"s":137,"t":7,"v":0.83},{"s":137,"t":8,"v":1},
{"s":138,"t":0,"v":0},{"s":138,"t":1,"v":0.04},{"s":138,"t":2,"v":0.1},{"s":138,"t":3,"v":0.22},{"s":138,"t":4,"v":0.46},{"s":138,"t":5,"v":0.63},{"s":138,"t":6,"v":0.8},{"s":138,"t":7,"v":0.91},{"s":138,"t":8,"v":1},
{"s":139,"t":0,"v":0},{"s":139,"t":1,"v":0.06},{"s":139,"t":2,"v":0.13},{"s":139,"t":3,"v":0.29},{"s":139,"t":4,"v":0.53},{"s":139,"t":5,"v":0.71},{"s":139,"t":6,"v":0.86},{"s":139,"t":7,"v":0.95},{"s":139,"t":8,"v":1},
{"s":140,"t":0,"v":0},{"s":140,"t":1,"v":0.02},{"s":140,"t":2,"v":0.08},{"s":140,"t":3,"v":0.2},{"s":140,"t":4,"v":0.61},{"s":140,"t":5,"v":0.8},{"s":140,"t":6,"v":0.92},{"s":140,"t":7,"v":0.97},{"s":140,"t":8,"v":1},
{"s":141,"t":0,"v":0},{"s":141,"t":1,"v":0.03},{"s":141,"t":2,"v":0.09},{"s":141,"t":3,"v":0.35},{"s":141,"t":4,"v":0.72},{"s":141,"t":5,"v":0.87},{"s":141,"t":6,"v":0.94},{"s":141,"t":7,"v":0.98},{"s":141,"t":8,"v":1},
{"s":142,"t":0,"v":0},{"s":142,"t":1,"v":0.05},{"s":142,"t":2,"v":0.19},{"s":142,"t":3,"v":0.46},{"s":142,"t":4,"v":0.79},{"s":142,"t":5,"v":0.91},{"s":142,"t":6,"v":0.96},{"s":142,"t":7,"v":0.99},{"s":142,"t":8,"v":1},
{"s":143,"t":0,"v":0},{"s":143,"t":1,"v":0.01},{"s":143,"t":2,"v":0.05},{"s":143,"t":3,"v":0.28},{"s":143,"t":4,"v":0.84},{"s":143,"t":5,"v":0.95},{"s":143,"t":6,"v":0.98},{"s":143,"t":7,"v":1},{"s":143,"t":8,"v":1},
{"s":144,"t":0,"v":0},{"s":144,"t":1,"v":0.02},{"s":144,"t":2,"v":0.07},{"s":144,"t":3,"v":0.19},{"s":144,"t":4,"v":0.88},{"s":144,"t":5,"v":0.97},{"s":144,"t":6,"v":0.99},{"s":144,"t":7,"v":1},{"s":144,"t":8,"v":1},
{"s":145,"t":0,"v":0},{"s":145,"t":1,"v":0},{"s":145,"t":2,"v":0.03},{"s":145,"t":3,"v":0.09},{"s":145,"t":4,"v":0.75},{"s":145,"t":5,"v":0.92},{"s":145,"t":6,"v":0.97},{"s":145,"t":7,"v":0.99},{"s":145,"t":8,"v":1},
{"s":146,"t":0,"v":0},{"s":146,"t":1,"v":0.01},{"s":146,"t":2,"v":0.02},{"s":146,"t":3,"v":0.05},{"s":146,"t":4,"v":0.55},{"s":146,"t":5,"v":0.88},{"s":146,"t":6,"v":0.96},{"s":146,"t":7,"v":0.99},{"s":146,"t":8,"v":1},
{"s":147,"t":0,"v":0},{"s":147,"t":1,"v":0.02},{"s":147,"t":2,"v":0.04},{"s":147,"t":3,"v":0.07},{"s":147,"t":4,"v":0.3},{"s":147,"t":5,"v":0.86},{"s":147,"t":6,"v":0.95},{"s":147,"t":7,"v":0.98},{"s":147,"t":8,"v":1},
{"s":148,"t":0,"v":0},{"s":148,"t":1,"v":0},{"s":148,"t":2,"v":0.01},{"s":148,"t":3,"v":0.02},{"s":148,"t":4,"v":0.04},{"s":148,"t":5,"v":0.6},{"s":148,"t":6,"v":0.9},{"s":148,"t":7,"v":0.97},{"s":148,"t":8,"v":1},
{"s":149,"t":0,"v":0},{"s":149,"t":1,"v":0.01},{"s":149,"t":2,"v":0.03},{"s":149,"t":3,"v":0.06},{"s":149,"t":4,"v":0.12},{"s":149,"t":5,"v":0.66},{"s":149,"t":6,"v":0.88},{"s":149,"t":7,"v":0.95},{"s":149,"t":8,"v":1},
{"s":150,"t":0,"v":0},{"s":150,"t":1,"v":0.03},{"s":150,"t":2,"v":0.05},{"s":150,"t":3,"v":0.09},{"s":150,"t":4,"v":0.19},{"s":150,"t":5,"v":0.72},{"s":150,"t":6,"v":0.91},{"s":150,"t":7,"v":0.97},{"s":150,"t":8,"v":1},
{"s":151,"t":0,"v":0},{"s":151,"t":1,"v":0.05},{"s":151,"t":2,"v":0.25},{"s":151,"t":3,"v":0.55},{"s":151,"t":4,"v":0.82},{"s":151,"t":5,"v":0.94},{"s":151,"t":6,"v":0.98},{"s":151,"t":7,"v":1},{"s":151,"t":8,"v":1},
{"s":152,"t":0,"v":0},{"s":152,"t":1,"v":0.03},{"s":152,"t":2,"v":0.18},{"s":152,"t":3,"v":0.48},{"s":152,"t":4,"v":0.76},{"s":152,"t":5,"v":0.9},{"s":152,"t":6,"v":0.96},{"s":152,"t":7,"v":0.99},{"s":152,"t":8,"v":1},
{"s":153,"t":0,"v":0},{"s":153,"t":1,"v":0.07},{"s":153,"t":2,"v":0.3},{"s":153,"t":3,"v":0.58},{"s":153,"t":4,"v":0.8},{"s":153,"t":5,"v":0.93},{"s":153,"t":6,"v":0.97},{"s":153,"t":7,"v":0.99},{"s":153,"t":8,"v":1},
{"s":154,"t":0,"v":0},{"s":154,"t":1,"v":0.02},{"s":154,"t":2,"v":0.22},{"s":154,"t":3,"v":0.52},{"s":154,"t":4,"v":0.85},{"s":154,"t":5,"v":0.96},{"s":154,"t":6,"v":0.99},{"s":154,"t":7,"v":1},{"s":154,"t":8,"v":1},
{"s":155,"t":0,"v":0},{"s":155,"t":1,"v":0.04},{"s":155,"t":2,"v":0.27},{"s":155,"t":3,"v":0.64},{"s":155,"t":4,"v":0.88},{"s":155,"t":5,"v":0.97},{"s":155,"t":6,"v":0.99},{"s":155,"t":7,"v":1},{"s":155,"t":8,"v":1},
{"s":156,"t":0,"v":0},{"s":156,"t":1,"v":0.06},{"s":156,"t":2,"v":0.34},{"s":156,"t":3,"v":0.6},{"s":156,"t":4,"v":0.78},{"s":156,"t":5,"v":0.9},{"s":156,"t":6,"v":0.95},{"s":156,"t":7,"v":0.98},{"s":156,"t":8,"v":1},
{"s":157,"t":0,"v":0},{"s":157,"t":1,"v":0.08},{"s":157,"t":2,"v":0.4},{"s":157,"t":3,"v":0.7},{"s":157,"t":4,"v":0.9},{"s":157,"t":5,"v":0.97},{"s":157,"t":6,"v":0.99},{"s":157,"t":7,"v":1},{"s":157,"t":8,"v":1},
{"s":158,"t":0,"v":0},{"s":158,"t":1,"v":0.03},{"s":158,"t":2,"v":0.14},{"s":158,"t":3,"v":0.42},{"s":158,"t":4,"v":0.72},{"s":158,"t":5,"v":0.9},{"s":158,"t":6,"v":0.97},{"s":158,"t":7,"v":0.99},{"s":158,"t":8,"v":1},
{"s":159,"t":0,"v":0},{"s":159,"t":1,"v":0.05},{"s":159,"t":2,"v":0.2},{"s":159,"t":3,"v":0.46},{"s":159,"t":4,"v":0.69},{"s":159,"t":5,"v":0.86},{"s":159,"t":6,"v":0.94},{"s":159,"t":7,"v":0.98},{"s":159,"t":8,"v":1},
{"s":160,"t":0,"v":0},{"s":160,"t":1,"v":0.01},{"s":160,"t":2,"v":0.09},{"s":160,"t":3,"v":0.36},{"s":160,"t":4,"v":0.68},{"s":160,"t":5,"v":0.88},{"s":160,"t":6,"v":0.96},{"s":160,"t":7,"v":0.99},{"s":160,"t":8,"v":1},
{"s":161,"t":0,"v":0},{"s":161,"t":1,"v":0.02},{"s":161,"t":2,"v":0.13},{"s":161,"t":3,"v":0.4},{"s":161,"t":4,"v":0.64},{"s":161,"t":5,"v":0.83},{"s":161,"t":6,"v":0.93},{"s":161,"t":7,"v":0.97},{"s":161,"t":8,"v":1},
{"s":162,"t":0,"v":0},{"s":162,"t":1,"v":0.04},{"s":162,"t":2,"v":0.24},{"s":162,"t":3,"v":0.5},{"s":162,"t":4,"v":0.7},{"s":162,"t":5,"v":0.84},{"s":162,"t":6,"v":0.92},{"s":162,"t":7,"v":0.97},{"s":162,"t":8,"v":1},
{"s":163,"t":0,"v":0},{"s":163,"t":1,"v":0.1},{"s":163,"t":2,"v":0.32},{"s":163,"t":3,"v":0.54},{"s":163,"t":4,"v":0.74},{"s":163,"t":5,"v":0.88},{"s":163,"t":6,"v":0.95},{"s":163,"t":7,"v":0.98},{"s":163,"t":8,"v":1},
{"s":164,"t":0,"v":0},{"s":164,"t":1,"v":0.06},{"s":164,"t":2,"v":0.21},{"s":164,"t":3,"v":0.43},{"s":164,"t":4,"v":0.65},{"s":164,"t":5,"v":0.81},{"s":164,"t":6,"v":0.91},{"s":164,"t":7,"v":0.96},{"s":164,"t":8,"v":1},
{"s":165,"t":0,"v":0},{"s":165,"t":1,"v":0.03},{"s":165,"t":2,"v":0.11},{"s":165,"t":3,"v":0.33},{"s":165,"t":4,"v":0.6},{"s":165,"t":5,"v":0.82},{"s":165,"t":6,"v":0.93},{"s":165,"t":7,"v":0.98},{"s":165,"t":8,"v":1},
{"s":166,"t":0,"v":0},{"s":166,"t":1,"v":0.02},{"s":166,"t":2,"v":0.08},{"s":166,"t":3,"v":0.27},{"s":166,"t":4,"v":0.57},{"s":166,"t":5,"v":0.8},{"s":166,"t":6,"v":0.92},{"s":166,"t":7,"v":0.97},{"s":166,"t":8,"v":1},
{"s":167,"t":0,"v":0},{"s":167,"t":1,"v":0.01},{"s":167,"t":2,"v":0.06},{"s":167,"t":3,"v":0.22},{"s":167,"t":4,"v":0.5},{"s":167,"t":5,"v":0.76},{"s":167,"t":6,"v":0.9},{"s":167,"t":7,"v":0.96},{"s":167,"t":8,"v":1},
{"s":168,"t":0,"v":0},{"s":168,"t":1,"v":0.04},{"s":168,"t":2,"v":0.12},{"s":168,"t":3,"v":0.3},{"s":168,"t":4,"v":0.54},{"s":168,"t":5,"v":0.74},{"s":168,"t":6,"v":0.87},{"s":168,"t":7,"v":0.94},{"s":168,"t":8,"v":1},
{"s":169,"t":0,"v":0},{"s":169,"t":1,"v":0.05},{"s":169,"t":2,"v":0.17},{"s":169,"t":3,"v":0.37},{"s":169,"t":4,"v":0.59},{"s":169,"t":5,"v":0.77},{"s":169,"t":6,"v":0.89},{"s":169,"t":7,"v":0.95},{"s":169,"t":8,"v":1},
{"s":170,"t":0,"v":0},{"s":170,"t":1,"v":0.02},{"s":170,"t":2,"v":0.1},{"s":170,"t":3,"v":0.34},{"s":170,"t":4,"v":0.63},{"s":170,"t":5,"v":0.85},{"s":170,"t":6,"v":0.95},{"s":170,"t":7,"v":0.98},{"s":170,"t":8,"v":1},
{"s":171,"t":0,"v":0},{"s":171,"t":1,"v":0.03},{"s":171,"t":2,"v":0.16},{"s":171,"t":3,"v":0.44},{"s":171,"t":4,"v":0.71},{"s":171,"t":5,"v":0.89},{"s":171,"t":6,"v":0.96},{"s":171,"t":7,"v":0.99},{"s":171,"t":8,"v":1},
{"s":172,"t":0,"v":0},{"s":172,"t":1,"v":0.07},{"s":172,"t":2,"v":0.23},{"s":172,"t":3,"v":0.47},{"s":172,"t":4,"v":0.67},{"s":172,"t":5,"v":0.84},{"s":172,"t":6,"v":0.94},{"s":172,"t":7,"v":0.98},{"s":172,"t":8,"v":1},
{"s":173,"t":0,"v":0},{"s":173,"t":1,"v":0.09},{"s":173,"t":2,"v":0.29},{"s":173,"t":3,"v":0.51},{"s":173,"t":4,"v":0.72},{"s":173,"t":5,"v":0.87},{"s":173,"t":6,"v":0.95},{"s":173,"t":7,"v":0.98},{"s":173,"t":8,"v":1},
{"s":174,"t":0,"v":0},{"s":174,"t":1,"v":0.04},{"s":174,"t":2,"v":0.19},{"s":174,"t":3,"v":0.56},{"s":174,"t":4,"v":0.84},{"s":174,"t":5,"v":0.95},{"s":174,"t":6,"v":0.99},{"s":174,"t":7,"v":1},{"s":174,"t":8,"v":1},
{"s":175,"t":0,"v":0},{"s":175,"t":1,"v":0.02},{"s":175,"t":2,"v":0.12},{"s":175,"t":3,"v":0.59},{"s":175,"t":4,"v":0.89},{"s":175,"t":5,"v":0.97},{"s":175,"t":6,"v":0.99},{"s":175,"t":7,"v":1},{"s":175,"t":8,"v":1},
{"s":176,"t":0,"v":0},{"s":176,"t":1,"v":0.01},{"s":176,"t":2,"v":0.07},{"s":176,"t":3,"v":0.45},{"s":176,"t":4,"v":0.83},{"s":176,"t":5,"v":0.96},{"s":176,"t":6,"v":0.99},{"s":176,"t":7,"v":1},{"s":176,"t":8,"v":1},
{"s":177,"t":0,"v":0},{"s":177,"t":1,"v":0.03},{"s":177,"t":2,"v":0.1},{"s":177,"t":3,"v":0.39},{"s":177,"t":4,"v":0.77},{"s":177,"t":5,"v":0.93},{"s":177,"t":6,"v":0.98},{"s":177,"t":7,"v":1},{"s":177,"t":8,"v":1},
{"s":178,"t":0,"v":0},{"s":178,"t":1,"v":0.05},{"s":178,"t":2,"v":0.15},{"s":178,"t":3,"v":0.32},{"s":178,"t":4,"v":0.58},{"s":178,"t":5,"v":0.79},{"s":178,"t":6,"v":0.92},{"s":178,"t":7,"v":0.97},{"s":178,"t":8,"v":1},
{"s":179,"t":0,"v":0},{"s":179,"t":1,"v":0.02},{"s":179,"t":2,"v":0.09},{"s":179,"t":3,"v":0.24},{"s":179,"t":4,"v":0.47},{"s":179,"t":5,"v":0.72},{"s":179,"t":6,"v":0.88},{"s":179,"t":7,"v":0.95},{"s":179,"t":8,"v":1},
{"s":180,"t":0,"v":0},{"s":180,"t":1,"v":0.01},{"s":180,"t":2,"v":0.05},{"s":180,"t":3,"v":0.18},{"s":180,"t":4,"v":0.41},{"s":180,"t":5,"v":0.69},{"s":180,"t":6,"v":0.87},{"s":180,"t":7,"v":0.95},{"s":180,"t":8,"v":1},
{"s":181,"t":0,"v":0},{"s":181,"t":1,"v":0.03},{"s":181,"t":2,"v":0.08},{"s":181,"t":3,"v":0.21},{"s":181,"t":4,"v":0.44},{"s":181,"t":5,"v":0.73},{"s":181,"t":6,"v":0.9},{"s":181,"t":7,"v":0.96},{"s":181,"t":8,"v":1},
{"s":182,"t":0,"v":0},{"s":182,"t":1,"v":0.06},{"s":182,"t":2,"v":0.2},{"s":182,"t":3,"v":0.41},{"s":182,"t":4,"v":0.66},{"s":182,"t":5,"v":0.86},{"s":182,"t":6,"v":0.95},{"s":182,"t":7,"v":0.98},{"s":182,"t":8,"v":1},
{"s":183,"t":0,"v":0},{"s":183,"t":1,"v":0.08},{"s":183,"t":2,"v":0.26},{"s":183,"t":3,"v":0.49},{"s":183,"t":4,"v":0.77},{"s":183,"t":5,"v":0.92},{"s":183,"t":6,"v":0.98},{"s":183,"t":7,"v":0.99},{"s":183,"t":8,"v":1},
{"s":184,"t":0,"v":0},{"s":184,"t":1,"v":0.12},{"s":184,"t":2,"v":0.35},{"s":184,"t":3,"v":0.57},{"s":184,"t":4,"v":0.81},{"s":184,"t":5,"v":0.93},{"s":184,"t":6,"v":0.98},{"s":184,"t":7,"v":1},{"s":184,"t":8,"v":1},
{"s":185,"t":0,"v":0},{"s":185,"t":1,"v":0.04},{"s":185,"t":2,"v":0.17},{"s":185,"t":3,"v":0.39},{"s":185,"t":4,"v":0.61},{"s":185,"t":5,"v":0.78},{"s":185,"t":6,"v":0.9},{"s":185,"t":7,"v":0.96},{"s":185,"t":8,"v":1},
{"s":186,"t":0,"v":0},{"s":186,"t":1,"v":0.02},{"s":186,"t":2,"v":0.11},{"s":186,"t":3,"v":0.29},{"s":186,"t":4,"v":0.52},{"s":186,"t":5,"v":0.71},{"s":186,"t":6,"v":0.85},{"s":186,"t":7,"v":0.93},{"s":186,"t":8,"v":1},
{"s":187,"t":0,"v":0},{"s":187,"t":1,"v":0.01},{"s":187,"t":2,"v":0.04},{"s":187,"t":3,"v":0.16},{"s":187,"t":4,"v":0.35},{"s":187,"t":5,"v":0.63},{"s":187,"t":6,"v":0.84},{"s":187,"t":7,"v":0.94},{"s":187,"t":8,"v":1},
{"s":188,"t":0,"v":0},{"s":188,"t":1,"v":0.03},{"s":188,"t":2,"v":0.07},{"s":188,"t":3,"v":0.23},{"s":188,"t":4,"v":0.49},{"s":188,"t":5,"v":0.81},{"s":188,"t":6,"v":0.94},{"s":188,"t":7,"v":0.98},{"s":188,"t":8,"v":1},
{"s":189,"t":0,"v":0},{"s":189,"t":1,"v":0.05},{"s":189,"t":2,"v":0.13},{"s":189,"t":3,"v":0.28},{"s":189,"t":4,"v":0.56},{"s":189,"t":5,"v":0.87},{"s":189,"t":6,"v":0.96},{"s":189,"t":7,"v":0.99},{"s":189,"t":8,"v":1},
{"s":190,"t":0,"v":0},{"s":190,"t":1,"v":0.02},{"s":190,"t":2,"v":0.06},{"s":190,"t":3,"v":0.19},{"s":190,"t":4,"v":0.45},{"s":190,"t":5,"v":0.91},{"s":190,"t":6,"v":0.98},{"s":190,"t":7,"v":1},{"s":190,"t":8,"v":1},
{"s":191,"t":0,"v":0},{"s":191,"t":1,"v":0.04},{"s":191,"t":2,"v":0.14},{"s":191,"t":3,"v":0.34},{"s":191,"t":4,"v":0.69},{"s":191,"t":5,"v":0.95},{"s":191,"t":6,"v":0.99},{"s":191,"t":7,"v":1},{"s":191,"t":8,"v":1},
{"s":192,"t":0,"v":0},{"s":192,"t":1,"v":0.07},{"s":192,"t":2,"v":0.19},{"s":192,"t":3,"v":0.53},{"s":192,"t":4,"v":0.87},{"s":192,"t":5,"v":0.98},{"s":192,"t":6,"v":1},{"s":192,"t":7,"v":1},{"s":192,"t":8,"v":1},
{"s":193,"t":0,"v":0},{"s":193,"t":1,"v":0.1},{"s":193,"t":2,"v":0.28},{"s":193,"t":3,"v":0.61},{"s":193,"t":4,"v":0.9},{"s":193,"t":5,"v":0.98},{"s":193,"t":6,"v":1},{"s":193,"t":7,"v":1},{"s":193,"t":8,"v":1},
{"s":194,"t":0,"v":0},{"s":194,"t":1,"v":0.03},{"s":194,"t":2,"v":0.21},{"s":194,"t":3,"v":0.66},{"s":194,"t":4,"v":0.93},{"s":194,"t":5,"v":0.99},{"s":194,"t":6,"v":1},{"s":194,"t":7,"v":1},{"s":194,"t":8,"v":1},
{"s":195,"t":0,"v":0},{"s":195,"t":1,"v":0.06},{"s":195,"t":2,"v":0.37},{"s":195,"t":3,"v":0.69},{"s":195,"t":4,"v":0.91},{"s":195,"t":5,"v":0.98},{"s":195,"t":6,"v":1},{"s":195,"t":7,"v":1},{"s":195,"t":8,"v":1},
{"s":196,"t":0,"v":0},{"s":196,"t":1,"v":0.09},{"s":196,"t":2,"v":0.45},{"s":196,"t":3,"v":0.73},{"s":196,"t":4,"v":0.89},{"s":196,"t":5,"v":0.96},{"s":196,"t":6,"v":0.99},{"s":196,"t":7,"v":1},{"s":196,"t":8,"v":1},
{"s":197,"t":0,"v":0},{"s":197,"t":1,"v":0.02},{"s":197,"t":2,"v":0.16},{"s":197,"t":3,"v":0.31},{"s":197,"t":4,"v":0.55},{"s":197,"t":5,"v":0.8},{"s":197,"t":6,"v":0.93},{"s":197,"t":7,"v":0.98},{"s":197,"t":8,"v":1},
{"s":198,"t":0,"v":0},{"s":198,"t":1,"v":0.04},{"s":198,"t":2,"v":0.18},{"s":198,"t":3,"v":0.35},{"s":198,"t":4,"v":0.62},{"s":198,"t":5,"v":0.83},{"s":198,"t":6,"v":0.94},{"s":198,"t":7,"v":0.98},{"s":198,"t":8,"v":1},
{"s":199,"t":0,"v":0},{"s":199,"t":1,"v":0.01},{"s":199,"t":2,"v":0.1},{"s":199,"t":3,"v":0.26},{"s":199,"t":4,"v":0.48},{"s":199,"t":5,"v":0.74},{"s":199,"t":6,"v":0.89},{"s":199,"t":7,"v":0.96},{"s":199,"t":8,"v":1},
{"s":200,"t":0,"v":0},{"s":200,"t":1,"v":0.05},{"s":200,"t":2,"v":0.22},{"s":200,"t":3,"v":0.38},{"s":200,"t":4,"v":0.6},{"s":200,"t":5,"v":0.79},{"s":200,"t":6,"v":0.91},{"s":200,"t":7,"v":0.97},{"s":200,"t":8,"v":1}
],
"main":[
{"serie":"SNC","t":0,"v":0},{"serie":"SNC","t":1,"v":0.025},{"serie":"SNC","t":2,"v":0.063},{"serie":"SNC","t":3,"v":0.2},{"serie":"SNC","t":4,"v":0.645},{"serie":"SNC","t":5,"v":0.88},{"serie":"SNC","t":6,"v":0.963},{"serie":"SNC","t":7,"v":0.99},{"serie":"SNC","t":8,"v":1},
{"serie":"moyen","t":0,"v":0},{"serie":"moyen","t":1,"v":0.035},{"serie":"moyen","t":2,"v":0.15},{"serie":"moyen","t":3,"v":0.31},{"serie":"moyen","t":4,"v":0.49},{"serie":"moyen","t":5,"v":0.695},{"serie":"moyen","t":6,"v":0.84},{"serie":"moyen","t":7,"v":0.935},{"serie":"moyen","t":8,"v":1},
{"serie":"cumul","t":0,"v":0},{"serie":"cumul","t":1,"v":0.03},{"serie":"cumul","t":2,"v":0.09},{"serie":"cumul","t":3,"v":0.245},{"serie":"cumul","t":4,"v":0.54},{"serie":"cumul","t":5,"v":0.835},{"serie":"cumul","t":6,"v":0.955},{"serie":"cumul","t":7,"v":0.995},{"serie":"cumul","t":8,"v":1},
{"serie":"HMR","t":0,"v":0},{"serie":"HMR","t":1,"v":0.02},{"serie":"HMR","t":2,"v":0.045},{"serie":"HMR","t":3,"v":0.088},{"serie":"HMR","t":4,"v":0.23},{"serie":"HMR","t":5,"v":0.675},{"serie":"HMR","t":6,"v":0.905},{"serie":"HMR","t":7,"v":0.985},{"serie":"HMR","t":8,"v":1}
]},
"layer":[
{"data":{"name":"sim"},"mark":{"type":"line","color":"#d9d9d9","strokeWidth":1},
 "encoding":{
  "x":{"field":"t","type":"quantitative","scale":{"domain":[0,8],"nice":false},"axis":{"orient":"bottom","values":[0,1,2,3,4,5,6,7,8],"title":"Temps (pas de 6 heures)","labelPadding":14,"titlePadding":3}},
  "y":{"field":"v","type":"quantitative","scale":{"domain":[0,1.048],"nice":false},"axis":{"orient":"left","values":[0,0.1,0.2,0.3,0.4,0.5,0.6,0.7,0.8,0.9,1],"format":"~g","title":"Fraction d'averse","labelPadding":14,"titlePadding":4}},
  "detail":{"field":"s","type":"nominal"}}},
{"data":{"name":"main"},"mark":{"type":"line"},
 "encoding":{
  "x":{"field":"t","type":"quantitative","axis":{"orient":"top","values":[0,1,2,3,4,5,6,7,8],"labels":false,"title":null}},
  "y":{"field":"v","type":"quantitative","axis":{"orient":"right","values":[0,0.1,0.2,0.3,0.4,0.5,0.6,0.7,0.8,0.9,1],"labels":false,"title":null}},
  "color":{"field":"serie","type":"nominal","sort":null,"scale":{"domain":["SNC","moyen","cumul","HMR"],"range":["#ee2127","#7cc46e","#000000","#3352a9"]},
   "legend":{"title":null,"orient":"none","legendX":602,"legendY":470,"symbolType":"stroke","symbolSize":2200,"symbolStrokeWidth":4,"clipHeight":16,"labelFontSize":16,"labelFont":"Liberation Sans","labelColor":"#111","strokeColor":"#555","fillColor":"white","padding":8,"rowPadding":5,"labelOffset":7,"symbolOffset":4,"cornerRadius":0}},
  "strokeDash":{"field":"serie","type":"nominal","sort":null,"scale":{"domain":["SNC","moyen","cumul","HMR"],"range":[[8,3],[2,3],[1,0],[8,3]]}},
  "strokeWidth":{"field":"serie","type":"nominal","scale":{"domain":["SNC","moyen","cumul","HMR"],"range":[4.5,3,4.5,4.5]},"legend":null}}}
],
"resolve":{"axis":{"x":"independent","y":"independent"}}
}
